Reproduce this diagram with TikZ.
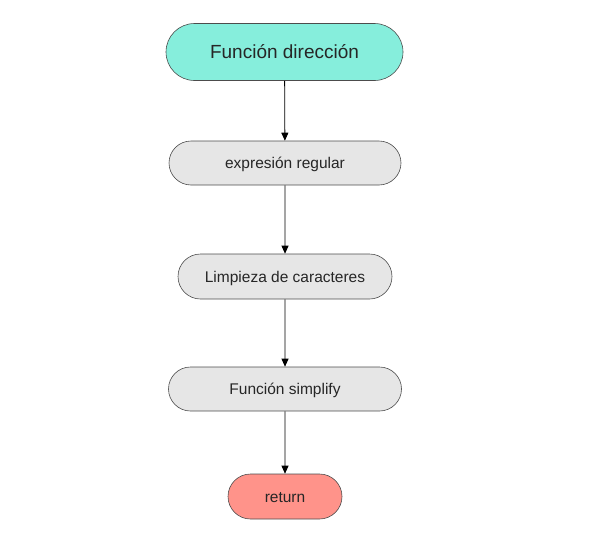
\documentclass[tikz,border=0pt]{standalone}
\usepackage{fontspec}
\setmainfont{Liberation Sans}
\usetikzlibrary{shapes.misc,arrows.meta}
\definecolor{inicio}{HTML}{86EEDC}
\definecolor{paso}{HTML}{E6E6E6}
\definecolor{fin}{HTML}{FF938A}
\begin{document}
\begin{tikzpicture}[x=1pt,y=-1pt,every node/.style={rounded rectangle,draw=black!70,line width=0.6pt,inner sep=0pt,text=black!85,text height=11pt,text depth=0pt,font=\fontsize{15.5}{18}\selectfont}]
\useasboundingbox (0,0) rectangle (603,549);
\node[fill=inicio,minimum width=237pt,minimum height=57pt,text height=13.5pt,font=\fontsize{19}{22}\selectfont] (f) at (284.5,52) {Función dirección};
\node[fill=paso,minimum width=232pt,minimum height=44pt] (e) at (285,163) {expresión regular};
\node[fill=paso,minimum width=214pt,minimum height=45pt] (l) at (285,276.5) {Limpieza de caracteres};
\node[fill=paso,minimum width=233pt,minimum height=44pt] (s) at (285,389) {Función simplify};
\node[fill=fin,minimum width=114pt,minimum height=45pt] (r) at (285,496.5) {return};
\draw[line width=0.8pt,-{Triangle[length=8pt,width=7pt]}] (f)--(e);
\draw[line width=0.8pt,-{Triangle[length=8pt,width=7pt]}] (e)--(l);
\draw[line width=0.8pt,-{Triangle[length=8pt,width=7pt]}] (l)--(s);
\draw[line width=0.8pt,-{Triangle[length=8pt,width=7pt]}] (s)--(r);
\end{tikzpicture}
\end{document}
